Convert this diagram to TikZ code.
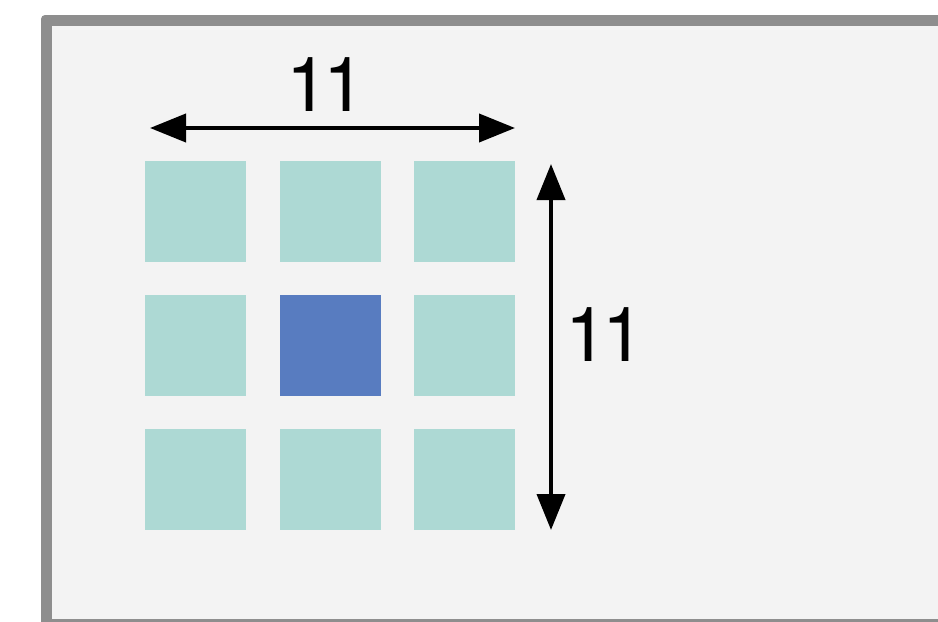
\documentclass[tikz,border=0pt]{standalone}
\usepackage{fontspec}
\setmainfont{TeX Gyre Heros}
\usetikzlibrary{arrows.meta}
\definecolor{framegray}{RGB}{142,142,142}
\definecolor{panelbg}{RGB}{243,243,243}
\definecolor{cellteal}{RGB}{173,217,212}
\definecolor{cellblue}{RGB}{88,124,192}
\tikzset{
  cell/.style={fill=cellteal, draw=none, minimum width=75.75pt, minimum height=75.75pt, inner sep=0pt, anchor=north west},
  centercell/.style={cell, fill=cellblue},
  dimarrow/.style={line width=3pt, {Triangle[length=27pt,width=21pt]}-{Triangle[length=27pt,width=21pt]}, shorten <=0pt, shorten >=0pt},
  dimlabel/.style={inner sep=0pt, font=\fontsize{57}{60}\selectfont, text=black}
}
\begin{document}
\begin{tikzpicture}[x=0.75pt,y=-0.75pt]
\useasboundingbox (0,0) rectangle (938,621);
\begin{scope}
\clip (0,0) rectangle (938,621);
\fill[framegray, rounded corners=3pt] (41,15) rectangle (980,660);
\fill[panelbg] (52,26) rectangle (980,619);
\end{scope}
% cells
\node[cell] (s11) at (145,161) {};
\node[cell] (s12) at (280,161) {};
\node[cell] (s13) at (414,161) {};
\node[cell] (s21) at (145,295) {};
\node[centercell] (s22) at (280,295) {};
\node[cell] (s23) at (414,295) {};
\node[cell] (s31) at (145,429) {};
\node[cell] (s32) at (280,429) {};
\node[cell] (s33) at (414,429) {};
% dimension arrows
\coordinate (hL) at (150,128);
\coordinate (hR) at (515,128);
\coordinate (vT) at (551,164);
\coordinate (vB) at (551,530);
\draw[dimarrow] (hL) -- (hR);
\draw[dimarrow] (vT) -- (vB);
\node[dimlabel] (wlabel) at (326,85) {1\kern-4.5pt1};
\node[dimlabel] (hlabel) at (605,335) {1\kern-4.5pt1};
\end{tikzpicture}
\end{document}
